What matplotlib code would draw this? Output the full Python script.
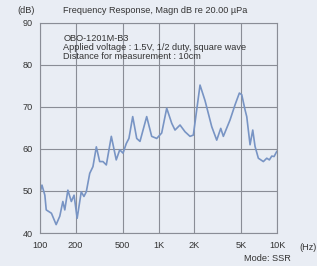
import matplotlib.pyplot as plt

plt.rcParams['font.family'] = ['Liberation Sans', 'DejaVu Sans']

# frequency response trace
freq = [100, 104, 110, 113, 125, 137, 147, 156, 162, 172, 184, 194, 206, 223,
        235, 246, 263, 280, 299, 319, 340, 363, 400, 440, 471, 502, 535, 563,
        606, 655, 698, 795, 876, 966, 1064, 1173, 1293, 1378, 1519, 1673,
        1844, 1967, 2240, 2469, 2812, 3098, 3350, 3523, 4012, 4421, 4808,
        5037, 5370, 5550, 5918, 6237, 6521, 6953, 7663, 8189, 8610, 9022,
        9434, 9943]
db = [49.6, 51.4, 49.0, 45.5, 44.7, 42.0, 44.0, 47.5, 45.5, 50.2, 47.5, 49.0,
      43.5, 49.8, 48.7, 49.8, 54.2, 55.8, 60.5, 57.0, 57.0, 56.2, 63.0, 57.4,
      59.8, 59.0, 61.3, 62.5, 67.7, 62.5, 61.8, 67.7, 63.0, 62.5, 63.8, 69.7,
      66.1, 64.5, 65.7, 64.1, 63.0, 63.3, 75.2, 71.5, 65.3, 62.1, 64.9, 63.0,
      66.9, 70.5, 73.3, 72.9, 69.3, 67.7, 61.0, 64.5, 60.6, 57.8, 57.0, 57.8,
      57.4, 58.3, 58.2, 59.4]

xticks = [100, 200, 500, 1000, 2000, 5000, 10000]
xlabels = ["100", "200", "500", "1K", "2K", "5K", "10K"]
yticks = [40, 50, 60, 70, 80, 90]

bg = "#e9edf4"
txt = "#333333"
fs = 6.6

fig = plt.figure(figsize=(3.17, 2.66), dpi=100, facecolor=bg)
ax = fig.add_axes([0.126, 0.124, 0.748, 0.79], facecolor=bg)

ax.plot(freq, db, color="#7894c4", lw=1.2)

ax.set_xscale("log")
ax.set_xlim(100, 10000)
ax.set_ylim(40, 90)
ax.set_xticks(xticks)
ax.set_xticklabels(xlabels)
ax.minorticks_off()
ax.set_yticks(yticks)
ax.tick_params(length=0, labelsize=fs, colors=txt)
ax.tick_params(axis="x", pad=6)
ax.tick_params(axis="y", pad=5)
ax.grid(True, color="#8a8d96", lw=0.8)
for s in ax.spines.values():
    s.set_color("#8a8d96")
    s.set_linewidth(0.8)

fig.text(0.055, 0.95, "(dB)", fontsize=fs, color=txt)
fig.text(0.2, 0.95, "Frequency Response, Magn dB re 20.00 \u00b5Pa", fontsize=fs, color=txt)
ax.text(0.098, 0.945, "OBO-1201M-B3\nApplied voltage : 1.5V, 1/2 duty, square wave\n"
        "Distance for measurement : 10cm", transform=ax.transAxes,
        fontsize=fs, color=txt, va="top", linespacing=1.0)
fig.text(0.945, 0.06, "(Hz)", fontsize=fs, color=txt)
fig.text(0.77, 0.017, "Mode: SSR", fontsize=fs, color=txt)

fig.savefig("out.png", dpi=100, facecolor=bg)
